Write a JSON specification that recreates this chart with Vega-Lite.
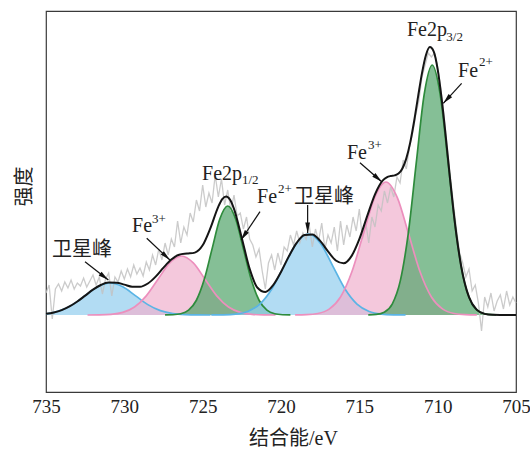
{
"$schema": "https://vega.github.io/schema/vega-lite/v6.json",
"width": 470, "height": 381,
"autosize": {"type": "none"},
"padding": {"left": 46, "top": 11, "right": 14, "bottom": 58},
"background": "white",
"config": {"view": {"stroke": "#3a3a3a", "strokeWidth": 1.2}, "font": "Liberation Serif"},
"datasets": {
"raw": [
{"x":735.0,"y":22},{"x":734.8,"y":30},{"x":734.6,"y":-4},{"x":734.4,"y":26},{"x":734.2,"y":31},{"x":734.0,"y":24},{"x":733.8,"y":33},{"x":733.6,"y":27},{"x":733.4,"y":35},{"x":733.2,"y":26},
{"x":733.0,"y":32},{"x":732.8,"y":29},{"x":732.6,"y":37},{"x":732.4,"y":28},{"x":732.2,"y":34},{"x":732.0,"y":40},{"x":731.8,"y":30},{"x":731.6,"y":38},{"x":731.4,"y":21},{"x":731.2,"y":36},
{"x":731.0,"y":42},{"x":730.8,"y":19},{"x":730.6,"y":38},{"x":730.4,"y":33},{"x":730.2,"y":44},{"x":730.0,"y":36},{"x":729.8,"y":46},{"x":729.6,"y":38},{"x":729.4,"y":50},{"x":729.2,"y":41},
{"x":729.0,"y":47},{"x":728.8,"y":39},{"x":728.6,"y":53},{"x":728.4,"y":45},{"x":728.2,"y":60},{"x":728.0,"y":50},{"x":727.8,"y":66},{"x":727.6,"y":55},{"x":727.4,"y":72},{"x":727.2,"y":60},
{"x":727.0,"y":76},{"x":726.8,"y":68},{"x":726.6,"y":94},{"x":726.4,"y":72},{"x":726.2,"y":88},{"x":726.0,"y":80},{"x":725.8,"y":102},{"x":725.6,"y":93},{"x":725.4,"y":115},{"x":725.2,"y":104},
{"x":725.0,"y":130},{"x":724.8,"y":108},{"x":724.6,"y":122},{"x":724.4,"y":112},{"x":724.2,"y":140},{"x":724.0,"y":118},{"x":723.8,"y":136},{"x":723.6,"y":110},{"x":723.4,"y":125},{"x":723.2,"y":104},
{"x":723.0,"y":120},{"x":722.8,"y":99},{"x":722.6,"y":102},{"x":722.4,"y":86},{"x":722.2,"y":98},{"x":722.0,"y":76},{"x":721.8,"y":70},{"x":721.6,"y":58},{"x":721.4,"y":66},{"x":721.2,"y":44},
{"x":721.0,"y":26},{"x":720.8,"y":52},{"x":720.6,"y":60},{"x":720.4,"y":45},{"x":720.2,"y":62},{"x":720.0,"y":50},{"x":719.8,"y":68},{"x":719.6,"y":64},{"x":719.4,"y":80},{"x":719.2,"y":70},
{"x":719.0,"y":84},{"x":718.8,"y":72},{"x":718.6,"y":82},{"x":718.4,"y":76},{"x":718.2,"y":90},{"x":718.0,"y":68},{"x":717.8,"y":86},{"x":717.6,"y":74},{"x":717.4,"y":92},{"x":717.2,"y":66},
{"x":717.0,"y":80},{"x":716.8,"y":72},{"x":716.6,"y":88},{"x":716.4,"y":64},{"x":716.2,"y":94},{"x":716.0,"y":70},{"x":715.8,"y":90},{"x":715.6,"y":78},{"x":715.4,"y":98},{"x":715.2,"y":84},
{"x":715.0,"y":106},{"x":714.8,"y":76},{"x":714.6,"y":94},{"x":714.4,"y":72},{"x":714.2,"y":98},{"x":714.0,"y":88},{"x":713.8,"y":110},{"x":713.6,"y":104},{"x":713.4,"y":124},{"x":713.2,"y":112},
{"x":713.0,"y":128},{"x":712.8,"y":118},{"x":712.6,"y":138},{"x":712.4,"y":132},{"x":712.2,"y":155},{"x":712.0,"y":146},{"x":711.8,"y":168},{"x":711.6,"y":182},{"x":711.4,"y":200},{"x":711.2,"y":214},
{"x":711.0,"y":238},{"x":710.8,"y":250},{"x":710.6,"y":262},{"x":710.4,"y":258},{"x":710.2,"y":262},{"x":710.0,"y":248},{"x":709.8,"y":226},{"x":709.6,"y":200},{"x":709.4,"y":170},{"x":709.2,"y":140},
{"x":709.0,"y":112},{"x":708.8,"y":86},{"x":708.6,"y":62},{"x":708.4,"y":52},{"x":708.2,"y":38},{"x":708.0,"y":46},{"x":707.8,"y":24},{"x":707.6,"y":30},{"x":707.4,"y":12},{"x":707.2,"y":-16},
{"x":707.0,"y":18},{"x":706.8,"y":8},{"x":706.6,"y":22},{"x":706.4,"y":4},{"x":706.2,"y":14},{"x":706.0,"y":20},{"x":705.8,"y":6},{"x":705.6,"y":24},{"x":705.4,"y":10},{"x":705.2,"y":18},{"x":705.0,"y":12}
],
"comp": [
{"x":724.5,"y":0.01,"p":"S1","k":"sat"},{"x":725.3,"y":0.07,"p":"S1","k":"sat"},{"x":726.1,"y":0.36,"p":"S1","k":"sat"},{"x":726.9,"y":1.40,"p":"S1","k":"sat"},{"x":727.7,"y":4.33,"p":"S1","k":"sat"},{"x":728.5,"y":10.39,"p":"S1","k":"sat"},{"x":729.3,"y":19.41,"p":"S1","k":"sat"},{"x":730.1,"y":28.24,"p":"S1","k":"sat"},{"x":730.9,"y":32,"p":"S1","k":"sat"},{"x":731.7,"y":28.24,"p":"S1","k":"sat"},{"x":732.5,"y":19.41,"p":"S1","k":"sat"},{"x":733.3,"y":10.39,"p":"S1","k":"sat"},{"x":734.1,"y":4.33,"p":"S1","k":"sat"},{"x":734.9,"y":1.40,"p":"S1","k":"sat"},{"x":735.0,"y":1.2,"p":"S1","k":"sat"},
{"x":720.35,"y":0.02,"p":"P1","k":"fe3"},{"x":721.1,"y":0.13,"p":"P1","k":"fe3"},{"x":721.85,"y":0.65,"p":"P1","k":"fe3"},{"x":722.6,"y":2.59,"p":"P1","k":"fe3"},{"x":723.35,"y":7.98,"p":"P1","k":"fe3"},{"x":724.1,"y":19.16,"p":"P1","k":"fe3"},{"x":724.85,"y":35.78,"p":"P1","k":"fe3"},{"x":725.6,"y":52.07,"p":"P1","k":"fe3"},{"x":726.35,"y":59,"p":"P1","k":"fe3"},{"x":727.1,"y":52.07,"p":"P1","k":"fe3"},{"x":727.85,"y":35.78,"p":"P1","k":"fe3"},{"x":728.6,"y":19.16,"p":"P1","k":"fe3"},{"x":729.35,"y":7.98,"p":"P1","k":"fe3"},{"x":730.1,"y":2.59,"p":"P1","k":"fe3"},{"x":730.85,"y":0.65,"p":"P1","k":"fe3"},{"x":731.6,"y":0.13,"p":"P1","k":"fe3"},{"x":732.35,"y":0.02,"p":"P1","k":"fe3"},
{"x":719.4,"y":0.03,"p":"G1","k":"fe2"},{"x":719.9,"y":0.24,"p":"G1","k":"fe2"},{"x":720.4,"y":1.21,"p":"G1","k":"fe2"},{"x":720.9,"y":4.79,"p":"G1","k":"fe2"},{"x":721.4,"y":14.75,"p":"G1","k":"fe2"},{"x":721.9,"y":35.39,"p":"G1","k":"fe2"},{"x":722.4,"y":66.11,"p":"G1","k":"fe2"},{"x":722.9,"y":96.19,"p":"G1","k":"fe2"},{"x":723.4,"y":109,"p":"G1","k":"fe2"},{"x":723.9,"y":96.19,"p":"G1","k":"fe2"},{"x":724.4,"y":66.11,"p":"G1","k":"fe2"},{"x":724.9,"y":35.39,"p":"G1","k":"fe2"},{"x":725.4,"y":14.75,"p":"G1","k":"fe2"},{"x":725.9,"y":4.79,"p":"G1","k":"fe2"},{"x":726.4,"y":1.21,"p":"G1","k":"fe2"},{"x":726.9,"y":0.24,"p":"G1","k":"fe2"},{"x":727.4,"y":0.03,"p":"G1","k":"fe2"},
{"x":712.05,"y":0.03,"p":"S2","k":"sat"},{"x":712.825,"y":0.18,"p":"S2","k":"sat"},{"x":713.6,"y":0.90,"p":"S2","k":"sat"},{"x":714.375,"y":3.56,"p":"S2","k":"sat"},{"x":715.15,"y":10.96,"p":"S2","k":"sat"},{"x":715.925,"y":26.30,"p":"S2","k":"sat"},{"x":716.7,"y":49.13,"p":"S2","k":"sat"},{"x":717.475,"y":71.48,"p":"S2","k":"sat"},{"x":718.25,"y":81,"p":"S2","k":"sat"},{"x":719.025,"y":71.48,"p":"S2","k":"sat"},{"x":719.8,"y":49.13,"p":"S2","k":"sat"},{"x":720.575,"y":26.30,"p":"S2","k":"sat"},{"x":721.35,"y":10.96,"p":"S2","k":"sat"},{"x":722.125,"y":3.56,"p":"S2","k":"sat"},{"x":722.9,"y":0.90,"p":"S2","k":"sat"},{"x":723.675,"y":0.18,"p":"S2","k":"sat"},{"x":724.45,"y":0.03,"p":"S2","k":"sat"},
{"x":707.5,"y":0.04,"p":"P2","k":"fe3"},{"x":708.225,"y":0.29,"p":"P2","k":"fe3"},{"x":708.95,"y":1.48,"p":"P2","k":"fe3"},{"x":709.675,"y":5.84,"p":"P2","k":"fe3"},{"x":710.4,"y":18.0,"p":"P2","k":"fe3"},{"x":711.125,"y":43.19,"p":"P2","k":"fe3"},{"x":711.85,"y":80.66,"p":"P2","k":"fe3"},{"x":712.575,"y":117.37,"p":"P2","k":"fe3"},{"x":713.3,"y":133,"p":"P2","k":"fe3"},{"x":714.025,"y":117.37,"p":"P2","k":"fe3"},{"x":714.75,"y":80.66,"p":"P2","k":"fe3"},{"x":715.475,"y":43.19,"p":"P2","k":"fe3"},{"x":716.2,"y":18.0,"p":"P2","k":"fe3"},{"x":716.925,"y":5.84,"p":"P2","k":"fe3"},{"x":717.65,"y":1.48,"p":"P2","k":"fe3"},{"x":718.375,"y":0.29,"p":"P2","k":"fe3"},{"x":719.1,"y":0.04,"p":"P2","k":"fe3"},
{"x":706.27,"y":0.08,"p":"G2","k":"fe2"},{"x":706.78,"y":0.55,"p":"G2","k":"fe2"},{"x":707.29,"y":2.78,"p":"G2","k":"fe2"},{"x":707.8,"y":10.98,"p":"G2","k":"fe2"},{"x":708.31,"y":33.83,"p":"G2","k":"fe2"},{"x":708.82,"y":81.18,"p":"G2","k":"fe2"},{"x":709.33,"y":151.63,"p":"G2","k":"fe2"},{"x":709.84,"y":220.63,"p":"G2","k":"fe2"},{"x":710.35,"y":250,"p":"G2","k":"fe2"},{"x":710.86,"y":220.63,"p":"G2","k":"fe2"},{"x":711.37,"y":151.63,"p":"G2","k":"fe2"},{"x":711.88,"y":81.18,"p":"G2","k":"fe2"},{"x":712.39,"y":33.83,"p":"G2","k":"fe2"},{"x":712.9,"y":10.98,"p":"G2","k":"fe2"},{"x":713.41,"y":2.78,"p":"G2","k":"fe2"},{"x":713.92,"y":0.55,"p":"G2","k":"fe2"},{"x":714.43,"y":0.08,"p":"G2","k":"fe2"}
],
"env": [
{"x":705,"y":0},{"x":705.5,"y":0},{"x":706,"y":0.03},{"x":706.5,"y":0.2},{"x":707,"y":1.15},{"x":707.5,"y":5.1},{"x":708,"y":17.8},{"x":708.5,"y":48.8},{"x":709,"y":105.7},{"x":709.25,"y":142.5},
{"x":709.5,"y":181.0},{"x":709.75,"y":216.9},{"x":710,"y":245.7},{"x":710.25,"y":263.4},{"x":710.5,"y":267.9},{"x":710.75,"y":259.8},{"x":711,"y":241.9},{"x":711.25,"y":218.4},{"x":711.5,"y":194.0},{"x":711.75,"y":172.6},
{"x":712,"y":156.6},{"x":712.25,"y":146.5},{"x":712.5,"y":141.4},{"x":712.75,"y":139.6},{"x":713,"y":139.0},{"x":713.25,"y":137.7},{"x":713.5,"y":134.6},{"x":714,"y":120.7},{"x":714.5,"y":98.8},{"x":715,"y":75.9},
{"x":715.5,"y":58.9},{"x":716,"y":51.7},{"x":716.5,"y":54.5},{"x":717,"y":63.6},{"x":717.5,"y":74.1},{"x":718,"y":80.6},{"x":718.5,"y":80.1},{"x":719,"y":72.2},{"x":719.5,"y":58.6},{"x":720,"y":43.1},
{"x":720.5,"y":29.9},{"x":721,"y":23.0},{"x":721.5,"y":27.2},{"x":722,"y":46.1},{"x":722.5,"y":76.8},{"x":723,"y":106.2},{"x":723.25,"y":115.2},{"x":723.5,"y":118.5},{"x":723.75,"y":115.8},{"x":724,"y":108.4},
{"x":724.5,"y":87.1},{"x":725,"y":69.7},{"x":725.5,"y":62.4},{"x":726,"y":61.4},{"x":726.5,"y":60.3},{"x":727,"y":55.5},{"x":727.5,"y":47.4},{"x":728,"y":38.4},{"x":728.5,"y":31.5},{"x":729,"y":28.2},
{"x":729.5,"y":28.3},{"x":730,"y":30.4},{"x":730.5,"y":32.3},{"x":731,"y":32.4},{"x":731.5,"y":30.0},{"x":732,"y":25.3},{"x":732.5,"y":19.4},{"x":733,"y":13.5},{"x":733.5,"y":8.55},{"x":734,"y":4.9},
{"x":734.5,"y":2.55},{"x":735,"y":1.2}
],
"ann": [
{"x":711.96,"y":279,"t":"Fe2p","k":"m"},{"x":709.45,"y":274,"t":"3/2","k":"s"},
{"x":708.70,"y":238,"t":"Fe","k":"m"},{"x":707.36,"y":249,"t":"2+","k":"s"},
{"x":715.79,"y":156,"t":"Fe","k":"m"},{"x":714.45,"y":166,"t":"3+","k":"s"},
{"x":721.53,"y":112,"t":"Fe","k":"m"},{"x":720.19,"y":122,"t":"2+","k":"s"},{"x":719.17,"y":112,"t":"卫星峰","k":"m"},
{"x":725.04,"y":135,"t":"Fe2p","k":"m"},{"x":722.49,"y":131,"t":"1/2","k":"s"},
{"x":729.51,"y":83,"t":"Fe","k":"m"},{"x":728.23,"y":92,"t":"3+","k":"s"},
{"x":734.62,"y":59,"t":"卫星峰","k":"m"}
],
"arrows": [
{"x":708.47,"y":231.7,"x2":709.64,"y2":211.7},
{"x":714.96,"y":152.3,"x2":713.57,"y2":133.3},
{"x":718.30,"y":110,"x2":718.30,"y2":82},
{"x":721.34,"y":103.3,"x2":722.55,"y2":75},
{"x":728.57,"y":76.7,"x2":727.09,"y2":55},
{"x":732.51,"y":53.3,"x2":731.02,"y2":35}
],
"maj": [{"x":735},{"x":730},{"x":725},{"x":720},{"x":715},{"x":710},{"x":705}],
"mnr": [{"x":732.5},{"x":727.5},{"x":722.5},{"x":717.5},{"x":712.5},{"x":707.5}]
},
"encoding": {
"x": {"field": "x", "type": "quantitative",
 "scale": {"domain": [705, 735], "reverse": true, "nice": false, "zero": false},
 "axis": {"values": [735,730,725,720,715,710,705], "format": "d", "ticks": false, "domain": false, "grid": false,
  "labelFlush": false, "labelFont": "Liberation Serif", "labelFontSize": 19, "labelPadding": 5, "labelColor": "#222",
  "title": "结合能/eV", "titleFont": "Liberation Serif, Noto Sans CJK SC", "titleFontSize": 20, "titleFontWeight": "normal",
  "titleColor": "#222", "titleX": 247, "titleY": 52, "titleBaseline": "alphabetic", "titleAnchor": "middle", "titleAlign": "center"}},
"y": {"field": "y", "type": "quantitative",
 "scale": {"domain": [-77, 304], "nice": false, "zero": false},
 "axis": {"ticks": false, "labels": false, "domain": false, "grid": false, "title": "强度",
  "titleFont": "Noto Sans CJK SC", "titleFontSize": 20, "titleFontWeight": "normal", "titleColor": "#222",
  "titleAngle": -90, "titleX": -22, "titleY": 175, "titleAlign": "center", "titleBaseline": "middle"}}
},
"layer": [
{"data": {"name": "comp"}, "mark": {"type": "area", "interpolate": "monotone", "fillOpacity": 0.7},
 "encoding": {"y": {"field": "y", "type": "quantitative", "stack": null}, "y2": {"datum": 0},
  "detail": {"field": "p"},
  "fill": {"field": "k", "type": "nominal", "legend": null, "scale": {"domain": ["sat","fe3","fe2"], "range": ["#92cdee","#f0b0cd","#51a46a"]}}}},
{"data": {"name": "raw"}, "mark": {"type": "line", "stroke": "#c2c2c2", "strokeWidth": 1.3, "opacity": 0.85}, "encoding": {}},
{"data": {"name": "comp"}, "mark": {"type": "line", "interpolate": "monotone", "strokeWidth": 1.7},
 "encoding": {"detail": {"field": "p"},
  "stroke": {"field": "k", "type": "nominal", "legend": null, "scale": {"domain": ["sat","fe3","fe2"], "range": ["#5ab4e5","#ec8fbd","#2e8b3c"]}}}},
{"data": {"values": [{}]}, "mark": {"type": "rule", "stroke": "#2e8b3c", "strokeWidth": 2.2},
 "encoding": {"x": {"datum": 735}, "x2": {"datum": 705}, "y": {"datum": 0}}},
{"data": {"name": "env"}, "mark": {"type": "line", "interpolate": "monotone", "stroke": "#151515", "strokeWidth": 2}, "encoding": {}},
{"data": {"name": "maj"}, "mark": {"type": "rule", "stroke": "#3a3a3a", "strokeWidth": 1.2},
 "encoding": {"y": {"datum": -77}, "y2": {"datum": -70}}},
{"data": {"name": "mnr"}, "mark": {"type": "rule", "stroke": "#3a3a3a", "strokeWidth": 1.2},
 "encoding": {"y": {"datum": -77}, "y2": {"datum": -73}}},
{"data": {"name": "arrows"}, "mark": {"type": "rule", "stroke": "#111", "strokeWidth": 1.2},
 "encoding": {"x2": {"field": "x2"}, "y2": {"field": "y2"}}},
{"data": {"name": "arrows"},
 "transform": [{"calculate": "atan2(-(datum.x2 - datum.x) * 15.667, datum.y2 - datum.y) * 180 / PI", "as": "ang"}],
 "mark": {"type": "point", "shape": "M0,0L0.5,2.2L-0.5,2.2Z", "filled": true, "fill": "#111", "opacity": 1, "size": 90, "strokeWidth": 0},
 "encoding": {"x": {"field": "x2", "type": "quantitative"}, "y": {"field": "y2", "type": "quantitative"},
  "angle": {"field": "ang", "type": "quantitative", "scale": null}}},
{"data": {"name": "ann"}, "transform": [{"filter": "datum.k === 'm'"}],
 "mark": {"type": "text", "align": "left", "baseline": "alphabetic", "font": "Liberation Serif, Noto Sans CJK SC", "fontSize": 20, "fill": "#222"},
 "encoding": {"text": {"field": "t"}}},
{"data": {"name": "ann"}, "transform": [{"filter": "datum.k === 's'"}],
 "mark": {"type": "text", "align": "left", "baseline": "alphabetic", "font": "Liberation Serif", "fontSize": 13, "fill": "#222"},
 "encoding": {"text": {"field": "t"}}}
]
}
